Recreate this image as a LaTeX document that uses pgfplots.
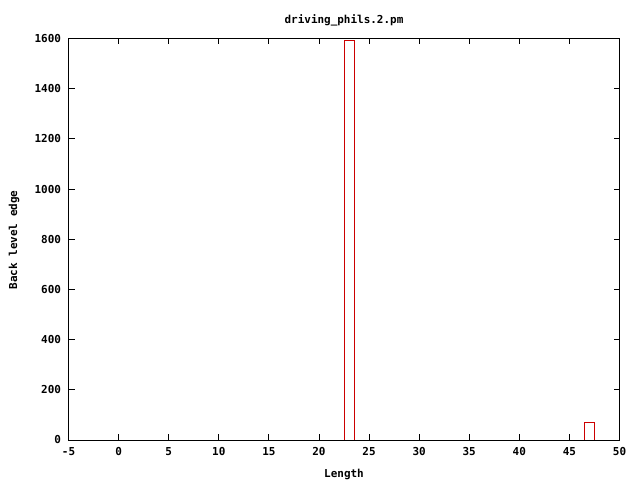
\documentclass[border=0pt]{standalone}
\usepackage{pgfplots}
\pgfplotsset{compat=1.18}
\usepackage{fontspec}
\setmainfont{DejaVu Sans Mono}
\definecolor{gpred}{RGB}{204,0,0}
\begin{document}
\begin{tikzpicture}[x=1bp,y=1bp]
\path[use as bounding box] (0,0) rectangle (640,480);
\begin{axis}[
  at={(68.5bp,40bp)}, anchor=south west,
  scale only axis, width=551bp, height=401.5bp,
  xmin=-5, xmax=50, ymin=0, ymax=1600,
  xtick={-5,0,...,50}, ytick={0,200,...,1600},
  tick align=inside, xtick pos=both, ytick pos=both,
  major tick length=6bp,
  axis line style={line width=0.8bp},
  every tick/.style={black, line width=0.8bp},
  /pgf/number format/assume math mode=true,
  /pgf/number format/1000 sep={},
  tick label style={font=\bfseries\fontsize{11}{13}\selectfont},
  xticklabel style={yshift=-4bp},
  yticklabel style={xshift=-4bp},
]
\addplot[ybar, bar width=1, draw=gpred, fill=none, line width=0.8bp] coordinates {(23,1591) (47,70)};
\end{axis}
\node[font=\bfseries\fontsize{11}{13}\selectfont] at (344,460) {driving\_phils.2.pm};
\node[font=\bfseries\fontsize{11}{13}\selectfont] at (344,6) {Length};
\node[font=\bfseries\fontsize{11}{13}\selectfont, rotate=90] at (14,240) {Back level edge};
\end{tikzpicture}
\end{document}
